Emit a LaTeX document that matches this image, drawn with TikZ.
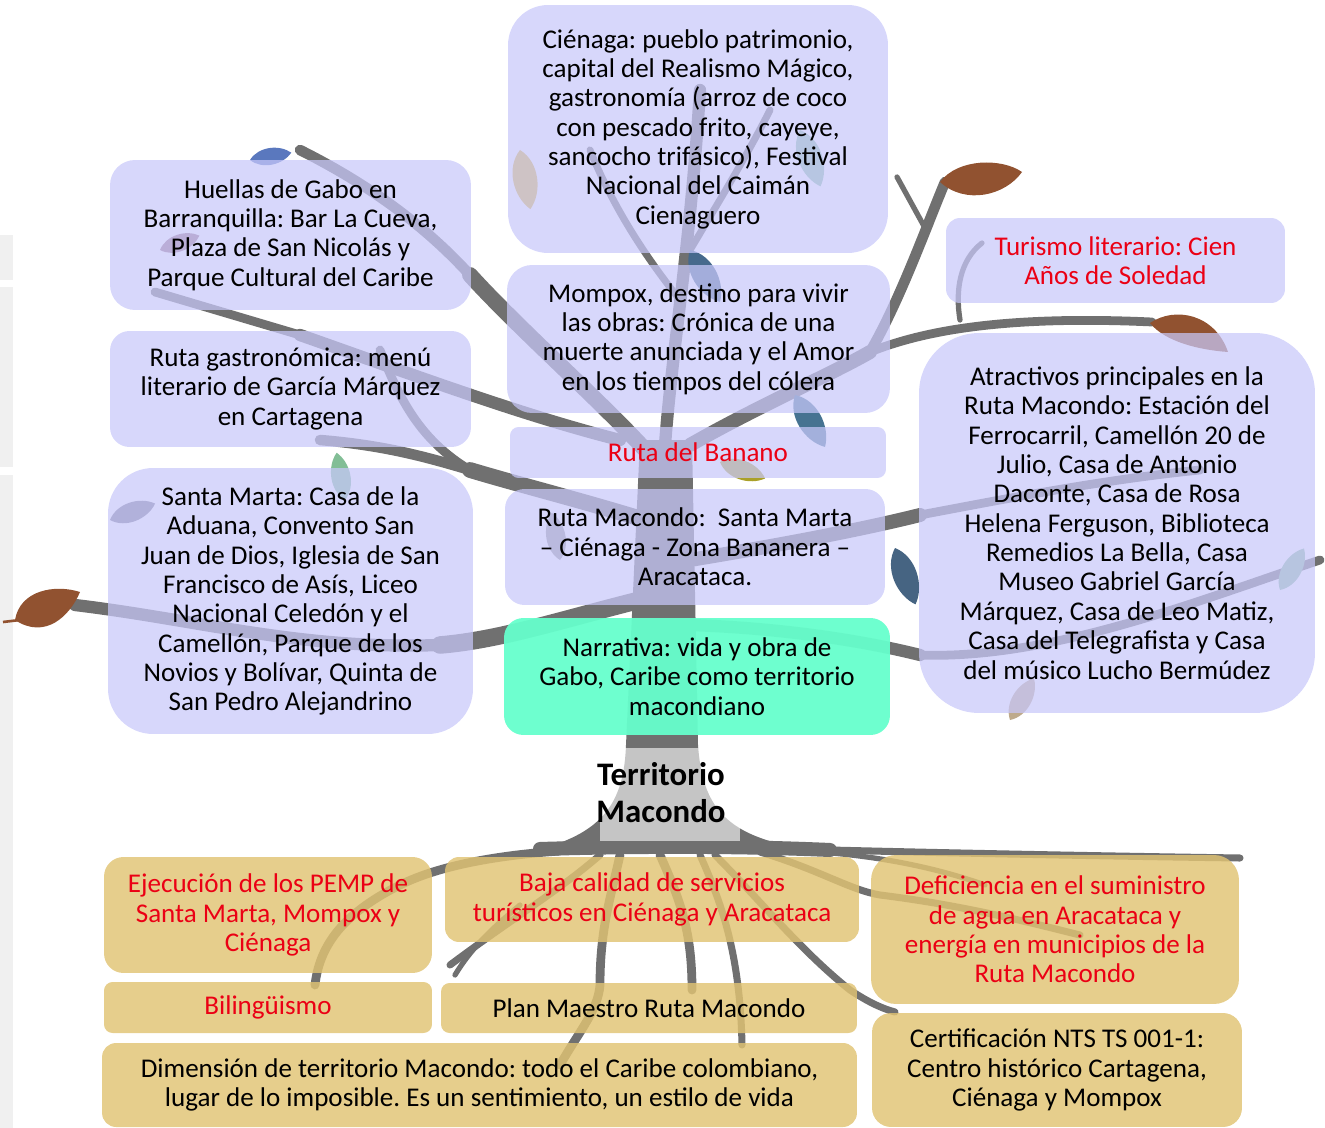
\documentclass[tikz,border=0pt]{standalone}
\usepackage{fontspec}
\setmainfont{Carlito}
\frenchspacing

\definecolor{lila}{RGB}{200,200,250}
\definecolor{arena}{RGB}{225,195,115}
\definecolor{menta}{RGB}{102,255,204}
\definecolor{ramagris}{RGB}{112,112,112}
\definecolor{hojacafe}{RGB}{145,82,48}
\definecolor{rojo}{RGB}{235,0,20}
\newcommand{\boxtext}{\fontsize{15.4}{16.7}\selectfont}

\begin{document}
\begin{tikzpicture}[x=0.02cm, y=-0.02cm,
    lilabox/.style={rounded corners=#1, fill=lila, fill opacity=.72, text opacity=1,
      inner sep=0pt, align=center, font=\boxtext},
    lilabox/.default=0.4cm,
    arenabox/.style={rounded corners=#1, fill=arena, fill opacity=.82, text opacity=1,
      inner sep=0pt, align=center, font=\boxtext},
    arenabox/.default=0.3cm,
    ramo/.style={draw=ramagris, line cap=round, line width=#1},
    hoja/.pic={\fill[pic actions] (0,0) .. controls (15,-17) and (45,-15) .. (60,0)
      .. controls (45,15) and (15,17) .. (0,0);}]
  \useasboundingbox (0,0) rectangle (1325,1128);

  % grey strip at the left edge
  \fill[gray!12] (0,235) rectangle (13,280);
  \fill[gray!12] (0,287) rectangle (13,467);
  \fill[gray!12] (0,475) rectangle (13,1128);

  % roots
  \draw[ramo=8pt] (540,849) .. controls (640,846) and (740,846) .. (830,850);
  \draw[ramo=4pt] (830,850) .. controls (950,853) and (1100,856) .. (1240,858);
  \draw[ramo=5pt] (560,851) .. controls (500,855) and (440,865) .. (400,885)
    .. controls (350,910) and (320,940) .. (315,985);
  \draw[ramo=4pt] (600,855) .. controls (560,890) and (510,920) .. (450,965);
  \draw[ramo=5pt] (620,855) .. controls (610,900) and (600,930) .. (600,985)
    .. controls (598,1010) and (580,1030) .. (560,1065);
  \draw[ramo=5pt] (660,855) .. controls (680,900) and (692,930) .. (692,990);
  \draw[ramo=4pt] (700,855) .. controls (720,900) and (740,950) .. (742,1045);
  \draw[ramo=4pt] (715,855) .. controls (760,900) and (800,950) .. (850,990)
    .. controls (865,1000) and (880,1008) .. (895,1012);
  \draw[ramo=4pt] (760,852) .. controls (820,870) and (850,890) .. (880,895)
    .. controls (960,905) and (1020,920) .. (1080,935);
  \draw[ramo=3pt] (780,850) .. controls (850,852) and (920,862) .. (985,885);
  \draw[ramo=3pt] (520,905) .. controls (490,930) and (470,950) .. (455,975);

  % trunk
  \fill[ramagris] (640,440) -- (692,440) -- (698,745) .. controls (702,800) and (720,832) .. (790,846)
    -- (540,849) .. controls (605,832) and (624,800) .. (626,745) -- cycle;
  \fill[white, opacity=.6] (600,748) rectangle (740,841);

  % branches
  \draw[ramo=7pt] (665,445) .. controls (672,350) and (690,250) .. (700,90);
  \draw[ramo=4pt] (690,250) .. controls (720,200) and (750,150) .. (770,110);
  \draw[ramo=4pt] (680,300) .. controls (640,250) and (610,200) .. (590,150);
  \draw[ramo=9pt] (650,455) .. controls (600,400) and (520,330) .. (470,275);
  \draw[ramo=6pt] (470,275) .. controls (420,220) and (360,180) .. (300,150);
  \draw[ramo=7pt] (620,440) .. controls (520,415) and (400,370) .. (300,335);
  \draw[ramo=5pt] (300,335) -- (155,292);
  \draw[ramo=9pt] (645,520) .. controls (580,500) and (520,485) .. (470,470);
  \draw[ramo=6pt] (470,470) .. controls (420,455) and (380,445) .. (320,440);
  \draw[ramo=5pt] (470,470) .. controls (420,440) and (400,400) .. (380,350);
  \draw[ramo=10pt] (640,600) .. controls (560,620) and (500,640) .. (440,645);
  \draw[ramo=7pt] (440,645) .. controls (300,650) and (200,620) .. (75,605);
  \draw[ramo=8pt] (690,445) .. controls (760,405) and (830,375) .. (870,352);
  \draw[ramo=6pt] (870,352) .. controls (900,300) and (925,230) .. (945,182);
  \draw[ramo=5pt] (870,352) .. controls (920,332) and (1000,315) .. (1152,322);
  \draw[ramo=3pt] (897,177) -- (925,228);
  \draw[ramo=3pt] (960,320) .. controls (955,290) and (960,260) .. (982,243);
  \draw[ramo=8pt] (690,560) .. controls (780,545) and (860,530) .. (920,515);
  \draw[ramo=5pt] (920,515) .. controls (1000,500) and (1100,480) .. (1200,470);
  \draw[ramo=7pt] (690,625) .. controls (780,628) and (860,640) .. (920,655);
  \draw[ramo=5pt] (920,655) .. controls (1050,660) and (1200,600) .. (1320,560);

  % leaves
  \fill[hojacafe] (940,182) .. controls (958,158) and (1002,158) .. (1022,172)
    .. controls (1005,196) and (965,205) .. (940,182);
  \fill[hojacafe] (1150,323) .. controls (1175,306) and (1215,314) .. (1228,352)
    .. controls (1200,350) and (1165,342) .. (1150,323);
  \fill[hojacafe] (15,620) .. controls (20,590) and (55,584) .. (80,592)
    .. controls (70,616) and (45,640) .. (15,620);
  \draw[hojacafe, line width=1.5pt] (3,622) -- (20,620);
  \pic[fill={rgb,255:red,225;green,185;blue,60}, rotate=-80] at (520,150) {hoja};
  \pic[fill={rgb,255:red,140;green,195;blue,165}, rotate=-70] at (800,130) {hoja};
  \pic[fill={rgb,255:red,70;green,105;blue,140}, rotate=-60] at (690,250) {hoja};
  \pic[fill={rgb,255:red,70;green,115;blue,145}, rotate=-60] at (795,395) {hoja};
  \pic[fill={rgb,255:red,170;green,160;blue,40}, rotate=-20, scale=.8] at (720,462) {hoja};
  \pic[fill={rgb,255:red,70;green,100;blue,130}, rotate=-70] at (895,548) {hoja};
  \pic[fill={rgb,255:red,150;green,150;blue,150}, rotate=100, scale=.8] at (560,560) {hoja};
  \pic[fill={rgb,255:red,130;green,190;blue,150}, rotate=100, scale=.8] at (345,500) {hoja};
  \pic[fill={rgb,255:red,90;green,120;blue,190}, rotate=10, scale=.7] at (250,160) {hoja};
  \pic[fill={rgb,255:red,150;green,110;blue,130}, rotate=20, scale=.7] at (160,250) {hoja};
  \pic[fill={rgb,255:red,120;green,120;blue,140}, rotate=20, scale=.8] at (110,520) {hoja};
  \pic[fill={rgb,255:red,140;green,190;blue,160}, rotate=60, scale=.8] at (1280,590) {hoja};
  \pic[fill={rgb,255:red,190;green,170;blue,140}, rotate=60, scale=.8] at (1010,720) {hoja};

  % boxes on the branches
  \node[lilabox=0.8cm, minimum width=7.6cm, minimum height=4.96cm] (cienaga) at (698,129)
    {Ciénaga: pueblo patrimonio,\\capital del Realismo Mágico,\\gastronomía (arroz de coco\\con pescado frito, cayeye,\\sancocho trifásico), Festival\\Nacional del Caimán\\Cienaguero};
  \node[lilabox=0.5cm, minimum width=7.22cm, minimum height=3cm] (huellas) at (290.5,235)
    {Huellas de Gabo en\\Barranquilla: Bar La Cueva,\\Plaza de San Nicolás y\\Parque Cultural del Caribe};
  \node[lilabox=0.28cm, minimum width=6.78cm, minimum height=1.7cm, text=rojo] (turismo) at (1115.5,260.5)
    {Turismo literario: Cien\\Años de Soledad};
  \node[lilabox=0.5cm, minimum width=7.66cm, minimum height=2.96cm] (mompox) at (698.5,339)
    {Mompox, destino para vivir\\las obras: Crónica de una\\muerte anunciada y el Amor\\en los tiempos del cólera};
  \node[lilabox=0.39cm, minimum width=7.22cm, minimum height=2.32cm] (gastro) at (290.5,389)
    {Ruta gastronómica: menú\\literario de García Márquez\\en Cartagena};
  \node[lilabox=0.17cm, minimum width=7.52cm, minimum height=1.02cm, text=rojo] (banano) at (698,452.5)
    {Ruta del Banano};
  \node[lilabox=1.2cm, minimum width=7.92cm, minimum height=7.6cm] (atractivos) at (1117,523)
    {Atractivos principales en la\\Ruta Macondo: Estación del\\Ferrocarril, Camellón 20 de\\Julio, Casa de Antonio\\Daconte, Casa de Rosa\\Helena Ferguson, Biblioteca\\Remedios La Bella, Casa\\Museo Gabriel García\\Márquez, Casa de Leo Matiz,\\Casa del Telegrafista y Casa\\del músico Lucho Bermúdez};
  \node[lilabox=0.9cm, minimum width=7.3cm, minimum height=5.32cm] (santamarta) at (290.5,601)
    {Santa Marta: Casa de la\\Aduana, Convento San\\Juan de Dios, Iglesia de San\\Francisco de Asís, Liceo\\Nacional Celedón y el\\Camellón, Parque de los\\Novios y Bolívar, Quinta de\\San Pedro Alejandrino};
  \node[lilabox=0.39cm, minimum width=7.6cm, minimum height=2.32cm] (rutamacondo) at (695,547)
    {Ruta Macondo:\ \ Santa Marta\\– Ciénaga - Zona Bananera –\\Aracataca.};
  \node[lilabox=0.39cm, fill=menta, fill opacity=.95, minimum width=7.72cm, minimum height=2.34cm] (narrativa) at (697,676.5)
    {Narrativa: vida y obra de\\Gabo, Caribe como territorio\\macondiano};

  \node[font=\bfseries\fontsize{18.7}{21}\selectfont, align=center] (territorio) at (661,793)
    {Territorio\\Macondo};

  % boxes on the roots
  \node[arenabox=0.39cm, minimum width=6.56cm, minimum height=2.32cm, text=rojo] (pemp) at (268,915)
    {Ejecución de los PEMP de\\Santa Marta, Mompox y\\Ciénaga};
  \node[arenabox=0.28cm, minimum width=8.28cm, minimum height=1.7cm, text=rojo] (bajacalidad) at (652,899.5)
    {Baja calidad de servicios\\turísticos en Ciénaga y Aracataca};
  \node[arenabox=0.5cm, minimum width=7.36cm, minimum height=2.98cm, text=rojo] (deficiencia) at (1055,929.5)
    {Deficiencia en el suministro\\de agua en Aracataca y\\energía en municipios de la\\Ruta Macondo};
  \node[arenabox=0.17cm, minimum width=6.56cm, minimum height=1.02cm, text=rojo] (bilinguismo) at (268,1007.5)
    {Bilingüismo};
  \node[arenabox=0.17cm, minimum width=8.32cm, minimum height=1cm] (planmaestro) at (649,1008)
    {Plan Maestro Ruta Macondo};
  \node[arenabox=0.28cm, minimum width=15.1cm, minimum height=1.68cm] (dimension) at (479.5,1085)
    {Dimensión de territorio Macondo: todo el Caribe colombiano,\\lugar de lo imposible. Es un sentimiento, un estilo de vida};
  \node[arenabox=0.38cm, minimum width=7.4cm, minimum height=2.28cm] (certificacion) at (1057,1070)
    {Certificación NTS TS 001-1:\\Centro histórico Cartagena,\\Ciénaga y Mompox};
\end{tikzpicture}
\end{document}
